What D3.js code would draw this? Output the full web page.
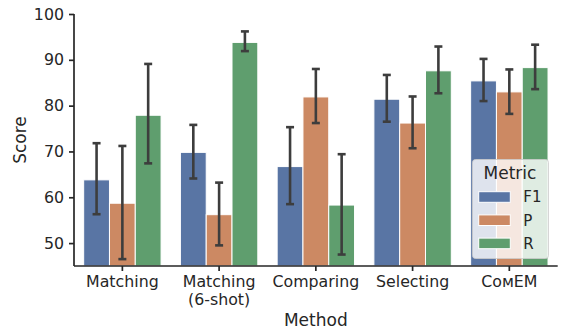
<!DOCTYPE html>
<html><head><meta charset="utf-8">
<script src="https://cdn.jsdelivr.net/npm/d3@7"></script>
<style>body{margin:0;background:#fff;} text{font-family:"DejaVu Sans",sans-serif;fill:#262626;}</style>
</head><body><svg id="c" width="561" height="331"></svg>
<script>
const categories = ["Matching", "Matching\n(6-shot)", "Comparing", "Selecting", "C\u1D0F\u1D0DEM"];
const metrics = ["F1", "P", "R"];
const colors = ["#5975a4", "#cc8963", "#5f9e6e"];
const valF1 = [63.8, 69.8, 66.7, 81.4, 85.4];
const valP  = [58.7, 56.2, 81.9, 76.2, 83.0];
const valR  = [77.9, 93.8, 58.3, 87.6, 88.3];
const loF1 = [56.3, 64.1, 58.5, 76.5, 81.0];
const hiF1 = [71.8, 75.8, 75.3, 86.7, 90.2];
const loP  = [46.5, 49.5, 76.2, 70.7, 78.2];
const hiP  = [71.2, 63.2, 88.0, 82.0, 87.9];
const loR  = [67.4, 91.9, 47.5, 82.7, 83.6];
const hiR  = [89.1, 96.2, 69.4, 92.9, 93.3];
const yTicks = [50, 60, 70, 80, 90, 100];

const vals = [valF1, valP, valR], los = [loF1, loP, loR], his = [hiF1, hiP, hiR];
const svg = d3.select("#c");
const L = 74, R = 557.7, T = 14, B = 266;
const x = d3.scaleBand().domain(categories).range([L, R]).padding(0);
const inner = d3.scaleBand().domain(metrics).range([0, x.bandwidth() * 0.8]);
const y = d3.scaleLinear().domain([45, 100]).range([B, T]);
const off = x.bandwidth() * 0.1;

const rows = [];
categories.forEach((c, i) => metrics.forEach((m, j) => rows.push({c, m, j, v: vals[j][i], lo: los[j][i], hi: his[j][i]})));

svg.append("g").selectAll("rect").data(rows).join("rect")
  .attr("x", d => x(d.c) + off + inner(d.m))
  .attr("width", inner.bandwidth())
  .attr("y", d => y(d.v))
  .attr("height", d => B - y(d.v))
  .attr("fill", d => colors[d.j])
  .attr("stroke", "#fff").attr("stroke-width", 1);

const eg = svg.append("g").attr("stroke", "#3d3d3d").attr("stroke-width", 2.6);
rows.forEach(d => {
  const cx = x(d.c) + off + inner(d.m) + inner.bandwidth() / 2;
  eg.append("line").attr("x1", cx).attr("x2", cx).attr("y1", y(d.lo)).attr("y2", y(d.hi));
  [d.lo, d.hi].forEach(v => eg.append("line").attr("x1", cx - 4).attr("x2", cx + 4).attr("y1", y(v)).attr("y2", y(v)));
});

// axes
const yAxis = svg.append("g").attr("transform", `translate(${L},0)`)
  .call(d3.axisLeft(y).tickValues(yTicks).tickSize(5).tickPadding(5));
const xAxis = svg.append("g").attr("transform", `translate(0,${B})`)
  .call(d3.axisBottom(x).tickSize(5).tickPadding(5));
[yAxis, xAxis].forEach(a => {
  a.select(".domain").attr("stroke", "#262626").attr("stroke-width", 1.7);
  a.selectAll(".tick line").attr("stroke", "#262626").attr("stroke-width", 1.7);
  a.selectAll("text").attr("font-size", 15.8).attr("fill", "#262626").attr("font-family", "DejaVu Sans");
});
yAxis.select(".domain").attr("d", `M0,${B}V${T}`);
xAxis.select(".domain").attr("d", `M${L},0H${R}`);
xAxis.selectAll(".tick text").each(function(d) {
  const t = d3.select(this); const parts = d.split("\n");
  t.text(null);
  parts.forEach((p, k) => t.append("tspan").attr("x", 0).attr("dy", k === 0 ? "0.71em" : "1.12em").text(p));
});

svg.append("text").attr("transform", `translate(26,${(T + B) / 2}) rotate(-90)`)
  .attr("text-anchor", "middle").attr("font-size", 17).text("Score");
svg.append("text").attr("x", (L + R) / 2).attr("y", 326)
  .attr("text-anchor", "middle").attr("font-size", 17).text("Method");

// legend
const lg = svg.append("g");
lg.append("rect").attr("x", 472.5).attr("y", 159.5).attr("width", 76).attr("height", 99).attr("rx", 3)
  .attr("fill", "#fff").attr("fill-opacity", 0.8).attr("stroke", "#cccccc").attr("stroke-opacity", 0.8);
lg.append("text").attr("x", 510).attr("y", 179).attr("text-anchor", "middle").attr("font-size", 17).text("Metric");
metrics.forEach((m, j) => {
  const yy = 191.7 + j * 23.2;
  lg.append("rect").attr("x", 478.7).attr("y", yy).attr("width", 31.6).attr("height", 10.6)
    .attr("fill", colors[j]).attr("stroke", "#fff").attr("stroke-width", 1);
  lg.append("text").attr("x", 523.3).attr("y", yy + 10.6).attr("font-size", 15).text(m);
});
</script></body></html>
